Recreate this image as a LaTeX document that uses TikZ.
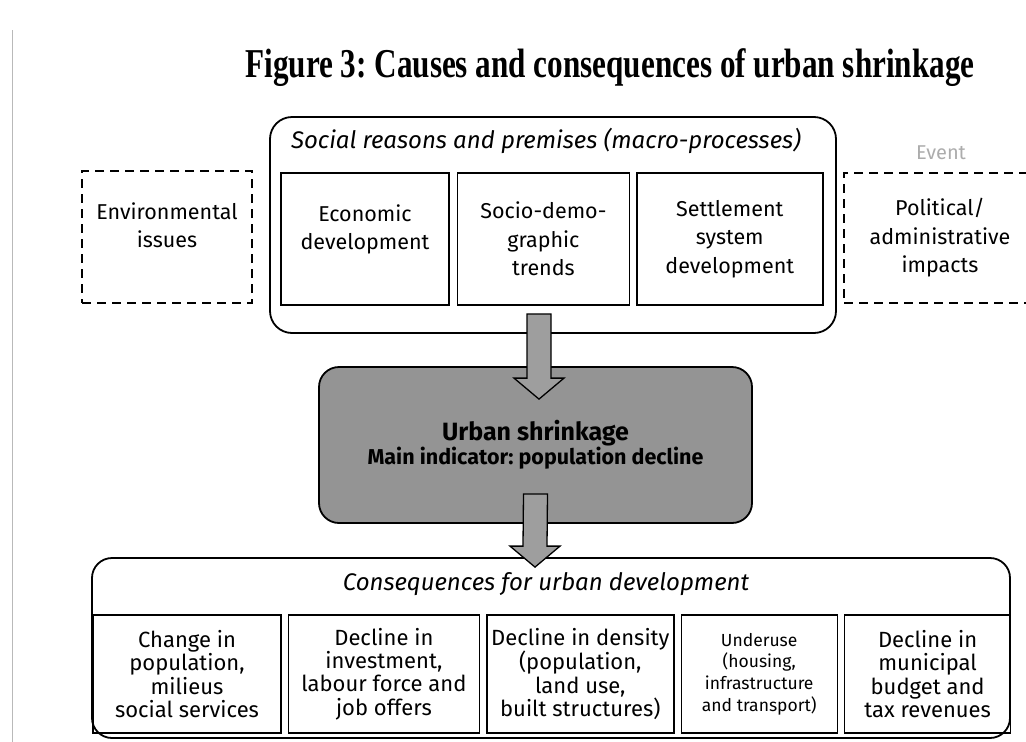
\documentclass[tikz,border=0pt]{standalone}
\usepackage{fontspec}
\setmainfont{Fira Sans}
\newfontfamily\titlefont{Liberation Serif}
\usetikzlibrary{positioning}
\usetikzlibrary{calc}

\tikzset{
  groupbox/.style={draw, line width=1.8pt, rounded corners=22pt, inner sep=0pt},
  causebox/.style={draw, line width=1.4pt, align=center, minimum height=132pt,
    inner sep=0pt, font=\fontsize{21.5}{28.5}\selectfont},
  sidebox/.style={causebox, dash pattern=on 9pt off 6pt},
  effectbox/.style={draw, line width=1.4pt, align=center, minimum height=118pt,
    inner sep=0pt, font=\fontsize{22}{23.2}\selectfont},
  headtext/.style={anchor=base, inner sep=0pt, font=\fontsize{24}{28}\selectfont\itshape},
  shrinkbox/.style={draw, line width=1.8pt, rounded corners=20pt, fill=black!42,
    align=center, minimum width=433pt, minimum height=156pt},
  blockarrow/.style={draw, line width=1.3pt, fill=black!38, line join=miter}
}

\begin{document}
\frenchspacing
\begin{tikzpicture}[x=1pt, y=-1pt]

\pgfmathsetmacro{\SHW}{12}
\pgfmathsetmacro{\HHW}{25}
\pgfmathsetmacro{\HL}{21}

\useasboundingbox (0,0) rectangle (1026,742);
\clip (0,0) rectangle (1026,742);

% page edge of the scan
\draw [gray!55, line width=0.8pt] (12,30) -- (12,742);

\node [anchor=base, inner sep=0pt, font=\titlefont\bfseries\fontsize{41}{46}\selectfont] (title) at (610,77)
{\scalebox{0.76}[1]{Figure 3: Causes and consequences of urban shrinkage}};

% causes
\node [groupbox, minimum width=566pt, minimum height=216pt] (social) at (553,225) {};
\node [headtext] (socialhead) at (546,148) {Social reasons and premises (macro-processes)};

\node [causebox, minimum width=168pt, text depth=24pt] (econ) at (365,239) {Economic\\development};
\node [causebox, minimum width=172pt, right=7pt of econ] (socio) {Socio-demo-\\graphic\\trends};
\node [causebox, minimum width=186pt, right=6pt of socio] (settle) {Settlement\\system\\development};

\node [sidebox, minimum width=170pt, text depth=24pt] (env) at (167,237) {Environmental\\issues};
\node [sidebox, minimum width=192pt, minimum height=130pt] (polit) at (940,238) {Political/\\administrative\\impacts};
\node [anchor=base, inner sep=0pt, text=gray!65, font=\fontsize{20}{24}\selectfont] (event) at (941,159) {Event};

% urban shrinkage
\node [shrinkbox] (shrink) at (535.5,445)
{\bfseries\fontsize{25}{30}\selectfont Urban shrinkage\\
 \bfseries\fontsize{21.5}{30}\selectfont Main indicator: population decline};

% consequences
\node [groupbox, rounded corners=20pt, minimum width=918pt, minimum height=180pt] (conseq) at (551,648) {};
\node [headtext] (conseqhead) at (546,590) {Consequences for urban development};

\node [effectbox, minimum width=188pt] (popul) at (187,674) {Change in\\population,\\milieus\\social services};
\node [effectbox, minimum width=191pt, right=6pt of popul] (invest) {Decline in\\investment,\\labour force and\\job offers};
\node [effectbox, minimum width=187pt, right=6pt of invest] (density) {Decline in density\\(population,\\land use,\\built structures)};
\node [effectbox, minimum width=156pt, right=6pt of density, font=\fontsize{17.5}{21.7}\selectfont] (underuse) {Underuse\\(housing,\\infrastructure\\and transport)};
\node [effectbox, minimum width=166pt, right=6pt of underuse] (budget) {Decline in\\municipal\\budget and\\tax revenues};

% block arrows
\coordinate (upfrom) at ($(social.south)+(-14,-20)$);
\coordinate (upto) at ($(shrink.north)+(3.5,33)$);
\draw [blockarrow] ($(upfrom)+(-\SHW,0)$) -- ($(upto)+(-\SHW,-\HL)$) -- ($(upto)+(-\HHW,-\HL)$)
  -- (upto) -- ($(upto)+(\HHW,-\HL)$) -- ($(upto)+(\SHW,-\HL)$) -- ($(upfrom)+(\SHW,0)$) -- cycle;

\coordinate (downfrom) at ($(shrink.south)+(0,-30)$);
\coordinate (downto) at ($(conseq.north)+(-16,10)$);
\draw [blockarrow] ($(downfrom)+(-\SHW,0)$) -- ($(downto)+(-\SHW,-\HL)$) -- ($(downto)+(-\HHW,-\HL)$)
  -- (downto) -- ($(downto)+(\HHW,-\HL)$) -- ($(downto)+(\SHW,-\HL)$) -- ($(downfrom)+(\SHW,0)$) -- cycle;

\end{tikzpicture}
\end{document}
